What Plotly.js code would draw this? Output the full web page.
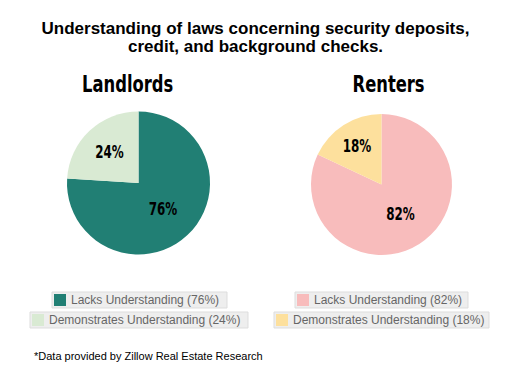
<!DOCTYPE html>
<html>
<head>
<meta charset="utf-8">
<script src="https://cdn.plot.ly/plotly-3.0.1.min.js"></script>
<style>
html,body{margin:0;padding:0;background:#fff;}
#chart{width:511px;height:391px;}
g.annotation[data-index="1"] text, g.annotation[data-index="2"] text {
  transform-box: fill-box; transform-origin: center; transform: scaleX(0.79);
}
g.slicetext {
  transform-box: fill-box; transform-origin: center; transform: scaleX(0.78);
}
</style>
</head>
<body>
<div id="chart"></div>
<script>
const categories = ["Lacks Understanding", "Demonstrates Understanding"];
const groups = ["Landlords", "Renters"];
const landlordValues = [76, 24];
const renterValues = [82, 18];
const landlordColors = ["#217f74", "#d9ead3"];
const renterColors = ["#f8bcbc", "#fde09d"];
const titleLines = ["Understanding of laws concerning security deposits,", "credit, and background checks."];
const footnote = "*Data provided by Zillow Real Estate Research";

const condFont = {family: "DejaVu Sans Condensed, DejaVu Sans, sans-serif", weight: 700, color: "#000"};
const W = 511, H = 391;
const px = function (x) { return x / W; };
const py = function (y) { return 1 - y / H; };

function pieTrace(values, colors, domain, name) {
  return {
    type: "pie",
    name: name,
    labels: categories,
    values: values,
    marker: {colors: colors, line: {width: 0}},
    sort: false,
    direction: "clockwise",
    rotation: 0,
    textinfo: "percent",
    textposition: "inside",
    insidetextorientation: "horizontal",
    texttemplate: "%{percent:.0%}",
    textfont: Object.assign({size: 17}, condFont),
    hoverinfo: "label+percent",
    showlegend: false,
    domain: domain
  };
}

const data = [
  pieTrace(landlordValues, landlordColors, {x: [0.1311, 0.411], y: [0.349, 0.715]}, groups[0]),
  pieTrace(renterValues, renterColors, {x: [0.6086, 0.8845], y: [0.3478, 0.7084]}, groups[1])
];

const titleFont = {family: "Liberation Sans, Arial, sans-serif", size: 17, color: "#000"};

const annotations = [
  {text: "<b>" + titleLines[1] + "</b>", x: 0.5, y: py(46), xref: "paper", yref: "paper", showarrow: false,
   xanchor: "center", yanchor: "middle", font: titleFont},
  {text: "<b>" + groups[0] + "</b>", x: px(127.5), y: py(84), xref: "paper", yref: "paper", showarrow: false, xanchor: "center", yanchor: "middle",
   font: Object.assign({}, condFont, {size: 23})},
  {text: "<b>" + groups[1] + "</b>", x: px(388.5), y: py(84), xref: "paper", yref: "paper", showarrow: false, xanchor: "center", yanchor: "middle",
   font: Object.assign({}, condFont, {size: 23})},
  {text: footnote, x: px(32), y: py(356), xref: "paper", yref: "paper", showarrow: false, xanchor: "left", yanchor: "middle",
   font: {family: "Liberation Sans, Arial, sans-serif", size: 11, color: "#000"}}
];

const shapes = [];
// legend layout: [left, top, width] of each box
const legendBoxes = [
  [[52, 292, 175], [30, 312, 218]],
  [[295, 292, 173], [274, 312, 215]]
];
function legendItems(values, colors, boxes) {
  categories.forEach(function (c, i) {
    const b = boxes[i];
    const left = b[0], top = b[1], w = b[2], h = 16;
    shapes.push({type: "rect", xref: "paper", yref: "paper", layer: "below",
      x0: px(left), x1: px(left + w), y0: py(top + h), y1: py(top),
      fillcolor: "#eeeeee", line: {color: "#dddddd", width: 1}});
    shapes.push({type: "rect", xref: "paper", yref: "paper", layer: "above",
      x0: px(left + 2), x1: px(left + 14), y0: py(top + 14), y1: py(top + 2),
      fillcolor: colors[i], line: {width: 0}});
    annotations.push({
      text: c + " (" + values[i] + "%)",
      x: px(left + 19), y: py(top + h / 2), xref: "paper", yref: "paper", showarrow: false,
      xanchor: "left", yanchor: "middle", borderpad: 0, borderwidth: 0,
      font: {family: "Liberation Sans, Arial, sans-serif", size: 12, color: "#666666"}
    });
  });
}
legendItems(landlordValues, landlordColors, legendBoxes[0]);
legendItems(renterValues, renterColors, legendBoxes[1]);

const layout = {
  width: W, height: H,
  margin: {l: 0, r: 0, t: 0, b: 0},
  paper_bgcolor: "#ffffff",
  title: {text: "<b>" + titleLines[0] + "</b>", x: 0.5, xanchor: "center", y: py(28), yanchor: "middle", font: titleFont},
  annotations: annotations,
  shapes: shapes
};

Plotly.newPlot("chart", data, layout, {displayModeBar: false, staticPlot: true});
</script>
</body>
</html>
